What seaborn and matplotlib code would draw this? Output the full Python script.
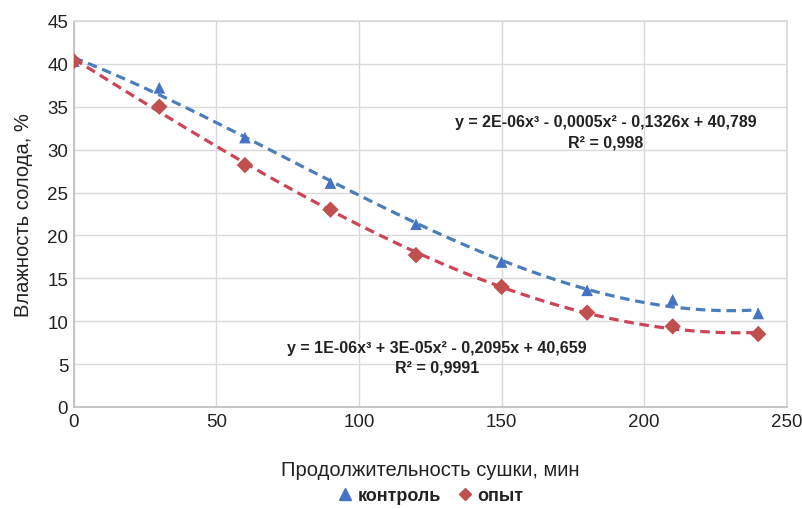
import numpy as np
import pandas as pd
import matplotlib
matplotlib.use("Agg")
import matplotlib.pyplot as plt
from matplotlib.lines import Line2D
import seaborn as sns

time_min = [0, 30, 60, 90, 120, 150, 180, 210, 240]
control = [40.3, 37.2, 31.4, 26.1, 21.3, 16.9, 13.6, 12.5, 10.9]
experiment = [40.3, 35.0, 28.2, 23.0, 17.7, 14.0, 11.0, 9.4, 8.5]
series_names = ["контроль", "опыт"]
eq_control = "y = 2E-06x³ - 0,0005x² - 0,1326x + 40,789"
r2_control = "R² = 0,998"
eq_exp = "y = 1E-06x³ + 3E-05x² - 0,2095x + 40,659"
r2_exp = "R² = 0,9991"
x_label = "Продолжительность сушки, мин"
y_label = "Влажность солода, %"

sns.set_theme(style="whitegrid")
plt.rcParams['font.family'] = ['Liberation Sans', 'DejaVu Sans']

fig = plt.figure(figsize=(8.02, 5.10), dpi=100)
ax = fig.add_axes([0.092, 0.2, 0.889, 0.757])

blue_m = "#4472C4"
red_m = "#C0504D"
blue_l = "#4A7EBB"
red_l = "#CC4455"

df = pd.DataFrame({"t": time_min * 2,
                   "v": control + experiment,
                   "s": [series_names[0]] * len(time_min) + [series_names[1]] * len(time_min)})

# trendlines (cubic fits)
xs = np.linspace(0, 240, 200)
for vals, col in [(control, blue_l), (experiment, red_l)]:
    coef = np.polyfit(time_min, vals, 3)
    tdf = pd.DataFrame({"t": xs, "v": np.polyval(coef, xs)})
    sns.lineplot(data=tdf, x="t", y="v", ax=ax, color=col, lw=2.3,
                 linestyle=(0, (3, 1.8)), legend=False)

sns.scatterplot(data=df, x="t", y="v", hue="s", style="s",
                markers={series_names[0]: "^", series_names[1]: "D"},
                palette={series_names[0]: blue_m, series_names[1]: red_m},
                s=[70], edgecolor="none", ax=ax, legend=False, zorder=5)

ax.set_xlim(0, 250)
ax.set_ylim(0, 45)
ax.set_xticks(range(0, 251, 50))
ax.set_yticks(range(0, 46, 5))
ax.grid(True, color="#D9D9D9", lw=1)
for sp in ax.spines.values():
    sp.set_visible(True)
    sp.set_color("#D9D9D9")
ax.spines["left"].set_color("#BFBFBF")
ax.spines["bottom"].set_color("#BFBFBF")
ax.tick_params(axis="both", labelsize=13.5, colors="#222222", length=0, pad=4)
ax.set_xlabel(x_label, fontsize=14.5, color="#222222", labelpad=22)
ax.set_ylabel(y_label, fontsize=14.5, color="#222222", labelpad=10)

fig.text(606 / 802, 1 - 123 / 510, eq_control, ha="center", va="center",
         fontsize=11.5, fontweight="bold", color="#222222")
fig.text(606 / 802, 1 - 143 / 510, r2_control, ha="center", va="center",
         fontsize=11.5, fontweight="bold", color="#222222")
fig.text(437 / 802, 1 - 348 / 510, eq_exp, ha="center", va="center",
         fontsize=11.5, fontweight="bold", color="#222222")
fig.text(437 / 802, 1 - 368 / 510, r2_exp, ha="center", va="center",
         fontsize=11.5, fontweight="bold", color="#222222")

handles = [Line2D([], [], ls="none", marker="^", color=blue_m, markersize=8),
           Line2D([], [], ls="none", marker="D", color=red_m, markersize=6)]
fig.legend(handles, series_names, loc="center", bbox_to_anchor=(430 / 802, 1 - 497 / 510),
           ncol=2, frameon=False, prop={"size": 13, "weight": "bold"},
           handletextpad=0.2, columnspacing=0.8,
           handlelength=1.0, labelcolor="#222222")

fig.savefig("out.png", dpi=100, facecolor="white")
